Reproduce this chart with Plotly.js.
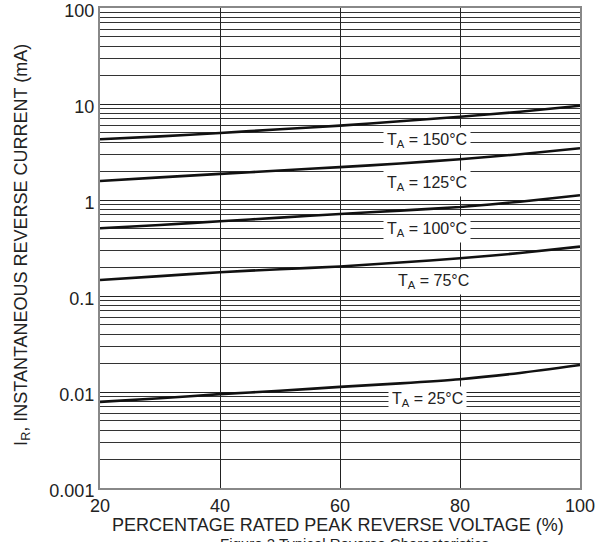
<!DOCTYPE html>
<html>
<head>
<meta charset="utf-8">
<script src="https://cdn.plot.ly/plotly-3.0.1.min.js"></script>
<style>html,body{margin:0;padding:0;background:#fff;}#chart{width:607px;height:542px;}</style>
</head>
<body>
<div id="chart"></div>
<script>
var voltagePct = [20, 30, 40, 50, 60, 70, 80, 90, 100];
var ir150 = [4.29, 4.6, 4.99, 5.45, 5.96, 6.6, 7.37, 8.3, 9.6];
var ir125 = [1.58, 1.72, 1.87, 2.03, 2.20, 2.40, 2.66, 3.0, 3.46];
var ir100 = [0.507, 0.55, 0.600, 0.655, 0.715, 0.775, 0.845, 0.96, 1.12];
var ir75 = [0.147, 0.161, 0.177, 0.19, 0.203, 0.223, 0.247, 0.28, 0.327];
var ir25 = [0.0079, 0.0086, 0.0095, 0.0103, 0.0113, 0.0123, 0.0136, 0.0158, 0.0191];

var seriesNames = ["T<sub>A</sub> = 150°C", "T<sub>A</sub> = 125°C", "T<sub>A</sub> = 100°C", "T<sub>A</sub> = 75°C", "T<sub>A</sub> = 25°C"];
var labelX = [74.5, 74.5, 74.5, 75.5, 74.5];
var labelY = [4.2, 1.5, 0.49, 0.14, 0.0083];

var xTicks = [20, 40, 60, 80, 100];
var yTicks = [0.001, 0.01, 0.1, 1, 10, 100];
var yTickText = ["0.001", "0.01", "0.1", "1", "10", "100"];

var minorVals = [];
for (var d = 0; d < yTicks.length - 1; d++) {
  for (var m = 2; m <= 9; m++) minorVals.push(yTicks[d] * m);
}

var allSeries = [ir150, ir125, ir100, ir75, ir25];
var traces = allSeries.map(function (s) {
  return {x: voltagePct, y: s, type: 'scatter', mode: 'lines',
    line: {color: '#111', width: 2.6, shape: 'spline', smoothing: 0.6}, hoverinfo: 'skip'};
});

var font = "Liberation Sans, Arial, Helvetica, sans-serif";
var annotations = seriesNames.map(function (n, i) {
  return {x: labelX[i], y: Math.log10(labelY[i]), xref: 'x', yref: 'y', text: n, showarrow: false,
    font: {family: font, size: 16, color: '#222'}, bgcolor: '#fff', borderpad: 3};
});
annotations.push({xref: 'paper', yref: 'paper', x: -0.163, y: 0.506, xanchor: 'center', yanchor: 'middle', textangle: -90,
  text: 'I<sub>R</sub>, INSTANTANEOUS REVERSE CURRENT (mA)', showarrow: false,
  font: {family: font, size: 18, color: '#222'}});
annotations.push({xref: 'paper', yref: 'paper', x: 0.496, y: -0.078, xanchor: 'center', yanchor: 'middle',
  text: 'PERCENTAGE RATED PEAK REVERSE VOLTAGE (%)', showarrow: false,
  font: {family: font, size: 18, color: '#222'}});
annotations.push({xref: 'paper', yref: 'paper', x: 0.53, y: -0.115, xanchor: 'center', yanchor: 'middle',
  text: 'Figure 2 Typical Reverse Characteristics', showarrow: false,
  font: {family: font, size: 15, color: '#222'}});

var layout = {
  width: 607, height: 542,
  margin: {l: 100, r: 27, t: 8, b: 54},
  paper_bgcolor: '#fff', plot_bgcolor: '#fff',
  showlegend: false,
  font: {family: font, size: 18, color: '#222'},
  xaxis: {range: [20, 100], tickvals: xTicks, ticks: '', showgrid: true, gridcolor: '#222', gridwidth: 1,
    zeroline: false, showline: true, mirror: true, linecolor: '#888', linewidth: 2,
    tickfont: {family: font, size: 18, color: '#222'}},
  yaxis: {type: 'log', range: [-3, 2], tickvals: yTicks, ticktext: yTickText, ticks: '',
    ticklabeloverflow: 'allow', ticklabelshift: 3,
    showgrid: true, gridcolor: '#222', gridwidth: 1, zeroline: false,
    showline: true, mirror: true, linecolor: '#888', linewidth: 2,
    tickfont: {family: font, size: 18, color: '#222'},
    minor: {tickvals: minorVals, showgrid: true, gridcolor: '#333', gridwidth: 1, ticks: ''}},
  annotations: annotations
};

Plotly.newPlot('chart', traces, layout, {displayModeBar: false, staticPlot: true});
</script>
</body>
</html>
